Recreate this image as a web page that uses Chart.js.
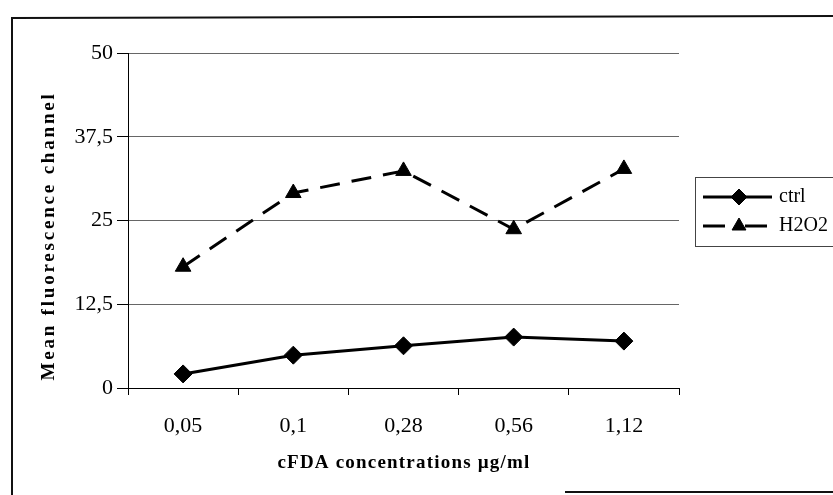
<!DOCTYPE html>
<html>
<head>
<meta charset="utf-8">
<script src="https://cdn.jsdelivr.net/npm/chart.js@4"></script>
<style>
  html, body { margin: 0; padding: 0; background: #fff; }
  #wrap { width: 833px; height: 495px; position: relative; }
</style>
</head>
<body>
<div id="wrap"><canvas id="chart" width="833" height="495"></canvas></div>
<script>
// data
const categories = ["0,05", "0,1", "0,28", "0,56", "1,12"];
const ctrlValues = [2.1, 4.9, 6.3, 7.6, 7.0];
const h2o2Values = [18.1, 29.1, 32.4, 23.7, 32.7];
const seriesNames = ["ctrl", "H2O2"];
const yTickValues = [0, 12.5, 25, 37.5, 50];
const yTickLabels = ["0", "12,5", "25", "37,5", "50"];
const xTitle = "cFDA concentrations µg/ml";
const yTitle = "Mean fluorescence channel";

const serif = "'Liberation Serif', 'Times New Roman', serif";

// outer frame of the scanned figure
const framePlugin = {
  id: "frame",
  beforeDraw(chart) {
    const ctx = chart.ctx;
    ctx.save();
    ctx.fillStyle = "#fff";
    ctx.fillRect(0, 0, chart.width, chart.height);
    ctx.strokeStyle = "#111";
    ctx.lineWidth = 2;
    ctx.beginPath();
    ctx.moveTo(12, 495);
    ctx.lineTo(12, 18);
    ctx.lineTo(833, 16);
    ctx.moveTo(565, 492);
    ctx.lineTo(833, 492);
    ctx.stroke();
    ctx.restore();
  }
};

// axis titles, letter spaced like the original
const titlesPlugin = {
  id: "titles",
  afterDraw(chart) {
    const ctx = chart.ctx;
    ctx.save();
    ctx.fillStyle = "#000";
    ctx.textAlign = "center";
    ctx.textBaseline = "middle";
    ctx.font = "bold 19px " + serif;
    ctx.letterSpacing = "1.2px";
    ctx.fillText(xTitle, 404, 463);
    ctx.translate(49, 236);
    ctx.rotate(-Math.PI / 2);
    ctx.letterSpacing = "2.8px";
    ctx.fillText(yTitle, 0, 0);
    ctx.restore();
  }
};

// boxed legend with line + marker samples
const legendPlugin = {
  id: "boxLegend",
  afterDraw(chart) {
    const ctx = chart.ctx;
    ctx.save();
    ctx.strokeStyle = "#444";
    ctx.lineWidth = 1;
    ctx.strokeRect(695.5, 177.5, 160, 69);
    chart.data.datasets.forEach((ds, i) => {
      const y = 197 + i * 29;
      const dashed = !!ds.borderDash;
      ctx.strokeStyle = "#000";
      ctx.lineWidth = ds.borderWidth;
      ctx.setLineDash(dashed ? [22, 20] : []);
      ctx.beginPath();
      ctx.moveTo(703, y);
      ctx.lineTo(dashed ? 767 : 772, y);
      ctx.stroke();
      ctx.setLineDash([]);
      ctx.fillStyle = "#000";
      ctx.lineWidth = 1;
      Chart.helpers.drawPoint(ctx, { pointStyle: ds.pointStyle, radius: ds.pointRadius - 1, borderWidth: 1, rotation: 0 }, 739, y);
      ctx.font = "20px " + serif;
      ctx.textAlign = "left";
      ctx.textBaseline = "middle";
      ctx.fillText(ds.label, 779, y);
    });
    ctx.restore();
  }
};

new Chart(document.getElementById("chart"), {
  type: "line",
  data: {
    labels: categories,
    datasets: [
      {
        label: seriesNames[0],
        data: ctrlValues,
        borderColor: "#000",
        backgroundColor: "#000",
        borderWidth: 3,
        pointStyle: "rectRot",
        pointRadius: 9,
        pointBorderWidth: 1,
        tension: 0
      },
      {
        label: seriesNames[1],
        data: h2o2Values,
        borderColor: "#000",
        backgroundColor: "#000",
        borderWidth: 3,
        borderDash: [20, 12],
        pointStyle: "triangle",
        pointRadius: 9,
        pointBorderWidth: 1,
        tension: 0
      }
    ]
  },
  options: {
    responsive: false,
    devicePixelRatio: 1,
    animation: false,
    layout: { padding: { top: 53, right: 154, left: 0, bottom: 0 } },
    plugins: {
      legend: { display: false },
      tooltip: { enabled: false }
    },
    scales: {
      x: {
        offset: true,
        afterFit: (s) => { s.height = 107; },
        grid: {
          offset: true,
          drawOnChartArea: false,
          drawTicks: true,
          tickLength: 7,
          color: "#000"
        },
        border: { color: "#000", width: 1 },
        ticks: {
          color: "#000",
          padding: 18,
          font: { family: serif, size: 22 }
        }
      },
      y: {
        min: 0,
        max: 50,
        afterFit: (s) => { s.width = 128; },
        grid: {
          color: "#666",
          lineWidth: 1,
          tickLength: 11,
          tickColor: "#000"
        },
        border: { color: "#000", width: 1 },
        ticks: {
          stepSize: 12.5,
          color: "#000",
          padding: 4,
          font: { family: serif, size: 22 },
          callback: (v) => {
            const i = yTickValues.indexOf(v);
            return i >= 0 ? yTickLabels[i] : "";
          }
        }
      }
    }
  },
  plugins: [framePlugin, titlesPlugin, legendPlugin]
});
</script>
</body>
</html>
